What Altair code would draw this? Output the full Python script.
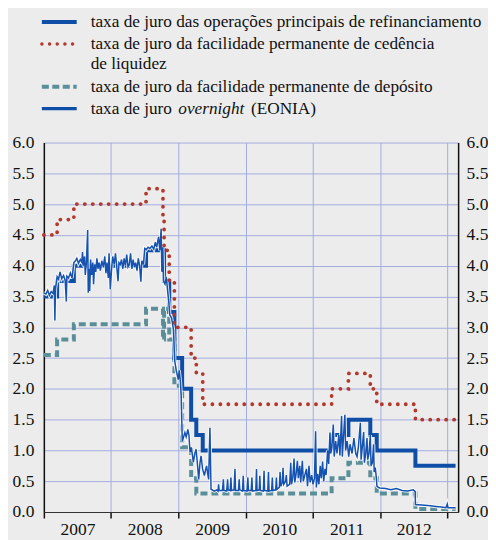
import altair as alt
import pandas as pd

# ---------------- data ----------------
mro_dates = ["2007-01-01", "2007-03-14", "2007-06-13", "2008-07-09", "2008-10-15", "2008-11-12",
             "2008-12-10", "2009-01-21", "2009-03-11", "2009-04-08", "2009-05-13", "2011-04-13",
             "2011-07-13", "2011-11-09", "2011-12-14", "2012-07-11", "2013-02-14"]
mro_values = [3.50, 3.75, 4.00, 4.25, 3.75, 3.25, 2.50, 2.00, 1.50, 1.25, 1.00, 1.25,
              1.50, 1.25, 1.00, 0.75, 0.75]

mlf_dates = ["2007-01-01", "2007-03-14", "2007-06-13", "2008-07-09", "2008-10-09", "2008-10-15",
             "2008-11-12", "2008-12-10", "2009-03-11", "2009-04-08", "2009-05-13", "2011-04-13",
             "2011-07-13", "2011-11-09", "2011-12-14", "2012-07-11", "2013-02-10"]
mlf_values = [4.50, 4.75, 5.00, 5.25, 4.75, 4.25, 3.75, 3.00, 2.50, 2.25, 1.75, 2.00,
              2.25, 2.00, 1.75, 1.50, 1.50]

dep_dates = ["2007-01-01", "2007-03-14", "2007-06-13", "2008-07-09", "2008-10-09", "2008-10-15",
             "2008-11-12", "2008-12-10", "2009-01-21", "2009-03-11", "2009-04-08", "2011-04-13",
             "2011-07-13", "2011-11-09", "2011-12-14", "2012-07-11", "2013-02-14"]
dep_values = [2.55, 2.80, 3.05, 3.30, 2.80, 3.30, 2.80, 2.05, 1.05, 0.55, 0.30, 0.55,
              0.80, 0.55, 0.30, 0.05, 0.05]

eonia_dates = [
    "2007-01-01", "2007-01-12", "2007-01-22", "2007-01-31", "2007-02-10", "2007-02-20", "2007-02-27",
    "2007-03-02", "2007-03-05", "2007-03-14", "2007-03-22", "2007-03-30", "2007-04-08", "2007-04-18",
    "2007-04-27", "2007-05-03", "2007-05-06", "2007-05-15", "2007-05-25", "2007-06-03", "2007-06-13",
    "2007-06-22", "2007-06-29", "2007-07-08", "2007-07-18", "2007-07-26", "2007-07-30", "2007-08-03",
    "2007-08-10", "2007-08-14", "2007-08-20", "2007-08-27", "2007-08-30", "2007-09-03", "2007-09-07",
    "2007-09-12", "2007-09-18", "2007-09-24", "2007-09-28", "2007-10-04", "2007-10-10", "2007-10-16",
    "2007-10-22", "2007-10-28", "2007-11-04", "2007-11-12", "2007-11-20", "2007-11-28", "2007-12-04",
    "2007-12-10", "2007-12-17", "2007-12-21", "2007-12-28",
    "2008-01-04", "2008-01-10", "2008-01-18", "2008-01-25", "2008-02-01", "2008-02-08", "2008-02-13",
    "2008-02-20", "2008-02-27", "2008-03-05", "2008-03-12", "2008-03-19", "2008-03-26", "2008-04-02",
    "2008-04-09", "2008-04-16", "2008-04-23", "2008-04-30", "2008-05-07", "2008-05-14", "2008-05-21",
    "2008-05-28", "2008-06-04", "2008-06-11", "2008-06-16", "2008-06-25", "2008-07-02", "2008-07-10",
    "2008-07-20", "2008-07-30", "2008-08-10", "2008-08-20", "2008-08-28", "2008-09-05", "2008-09-15",
    "2008-09-22", "2008-09-29", "2008-10-03", "2008-10-08", "2008-10-12", "2008-10-20", "2008-10-27",
    "2008-11-03", "2008-11-10", "2008-11-15", "2008-11-25", "2008-12-05", "2008-12-12", "2008-12-20",
    "2008-12-31",
    "2009-01-05", "2009-01-12", "2009-01-16", "2009-01-22", "2009-01-29", "2009-02-05", "2009-02-12",
    "2009-02-21", "2009-02-27", "2009-03-05", "2009-03-12", "2009-03-23", "2009-03-31", "2009-04-07",
    "2009-04-14", "2009-04-21", "2009-04-28", "2009-05-04", "2009-05-12", "2009-05-22", "2009-05-28",
    "2009-06-03", "2009-06-09", "2009-06-14", "2009-06-21", "2009-06-27",
    "2009-07-15", "2009-07-28", "2009-08-04", "2009-08-07", "2009-08-10", "2009-08-28", "2009-09-02",
    "2009-09-05", "2009-09-20", "2009-09-25", "2009-09-28", "2009-10-09", "2009-10-13", "2009-10-16",
    "2009-10-30", "2009-11-04", "2009-11-07", "2009-11-23", "2009-11-27", "2009-11-30", "2009-12-15",
    "2009-12-19", "2009-12-22",
    "2010-01-08", "2010-01-13", "2010-01-16", "2010-01-31", "2010-02-04", "2010-02-07", "2010-02-25",
    "2010-03-01", "2010-03-04", "2010-03-16", "2010-03-19", "2010-03-22", "2010-04-07", "2010-04-11",
    "2010-04-14", "2010-05-01", "2010-05-05", "2010-05-08", "2010-05-22", "2010-05-26", "2010-05-29",
    "2010-06-13", "2010-06-17", "2010-06-20", "2010-07-03", "2010-07-07", "2010-07-11", "2010-07-19",
    "2010-07-23", "2010-07-27", "2010-08-06", "2010-08-10", "2010-08-14", "2010-08-28", "2010-09-03",
    "2010-09-07", "2010-09-14", "2010-09-21", "2010-09-25", "2010-10-02", "2010-10-09", "2010-10-14",
    "2010-10-22", "2010-10-27", "2010-11-05", "2010-11-10", "2010-11-20", "2010-11-27", "2010-12-03",
    "2010-12-11", "2010-12-17", "2010-12-26",
    "2011-01-02", "2011-01-10", "2011-01-16", "2011-01-20", "2011-01-27", "2011-02-03", "2011-02-10",
    "2011-02-16", "2011-02-23", "2011-03-01", "2011-03-08", "2011-03-14", "2011-03-22", "2011-03-28",
    "2011-04-04", "2011-04-08", "2011-04-14", "2011-04-22", "2011-04-27", "2011-05-05", "2011-05-12",
    "2011-05-22", "2011-05-28", "2011-06-06", "2011-06-10", "2011-06-16", "2011-06-24", "2011-06-28",
    "2011-07-06", "2011-07-15", "2011-07-22", "2011-08-02", "2011-08-12", "2011-08-22", "2011-08-29",
    "2011-09-05", "2011-09-16", "2011-09-20", "2011-09-28", "2011-10-04", "2011-10-08", "2011-10-15",
    "2011-10-22", "2011-10-26", "2011-11-02", "2011-11-09", "2011-11-13", "2011-11-20", "2011-11-27",
    "2011-11-30", "2011-12-06", "2011-12-12", "2011-12-15", "2011-12-22", "2011-12-31",
    "2012-01-31", "2012-02-29", "2012-03-30", "2012-04-30", "2012-05-31", "2012-06-29", "2012-07-10",
    "2012-07-11", "2012-08-31", "2012-09-30", "2012-10-31", "2012-11-30", "2012-12-24", "2012-12-31",
    "2013-01-04", "2013-02-14",
]
eonia_values = [
    3.56, 3.54, 3.60, 3.52, 3.58, 3.55, 3.68,
    3.11, 3.62, 3.82, 3.78, 3.90, 3.79, 3.84,
    3.76, 3.42, 3.83, 3.80, 3.88, 3.80, 4.05,
    4.08, 4.12, 4.04, 4.10, 4.06, 4.22, 4.00,
    4.15, 3.85, 4.05, 4.58, 3.56, 3.95, 3.59,
    4.10, 3.85, 4.05, 3.70, 4.02, 3.90, 4.12,
    3.95, 4.05, 3.92, 4.08, 3.98, 4.15, 3.88,
    4.05, 3.80, 4.20, 3.62,
    3.95, 4.15, 4.02, 4.20, 3.98, 3.75, 4.05,
    4.02, 4.10, 3.95, 4.12, 4.00, 4.18, 3.98,
    4.02, 4.20, 3.95, 4.10, 3.98, 4.05, 3.92,
    4.12, 4.00, 3.74, 4.08, 4.02, 4.28, 4.26,
    4.30, 4.28, 4.32, 4.27, 4.38, 4.30, 4.47,
    4.25, 4.60, 3.90, 4.30, 3.75, 3.70, 3.82,
    3.60, 3.40, 3.20, 3.15, 2.96, 2.45, 2.30,
    2.15,
    2.30, 2.10, 1.88, 1.15, 1.22, 1.29, 1.22,
    1.34, 1.25, 0.97, 1.05, 0.81, 0.95, 1.02,
    0.78, 0.53, 0.80, 0.91, 0.70, 0.59, 0.68,
    0.75, 0.62, 0.53, 1.37, 0.37,
    0.34, 0.36, 0.34, 0.45, 0.35, 0.35, 0.53,
    0.35, 0.34, 0.53, 0.36, 0.35, 0.56, 0.35,
    0.36, 0.70, 0.35, 0.35, 0.53, 0.36, 0.34,
    0.59, 0.35,
    0.34, 0.56, 0.35, 0.35, 0.56, 0.34, 0.35,
    0.70, 0.35, 0.36, 0.59, 0.35, 0.34, 0.67,
    0.35, 0.34, 0.65, 0.34, 0.35, 0.56, 0.35,
    0.36, 0.56, 0.37, 0.40, 0.65, 0.42, 0.48,
    0.72, 0.45, 0.50, 0.60, 0.42, 0.45, 0.80,
    0.45, 0.55, 0.87, 0.48, 0.62, 0.83, 0.55,
    0.75, 0.48, 0.83, 0.50, 0.62, 0.70, 0.42,
    0.75, 0.48, 0.60,
    0.45, 0.55, 1.31, 0.40, 0.62, 0.45, 0.75,
    0.55, 0.82, 0.50, 0.70, 0.60, 1.00, 0.78,
    1.29, 0.95, 1.05, 1.42, 0.90, 1.15, 0.95,
    1.25, 0.92, 1.56, 0.90, 1.20, 1.58, 1.00,
    1.15, 0.90, 1.10, 0.95, 1.20, 0.95, 0.90,
    1.05, 1.45, 0.85, 1.10, 1.30, 0.80, 0.95,
    1.20, 0.85, 0.95, 1.25, 0.75, 0.80, 1.10,
    0.65, 0.72, 0.55, 0.42, 0.40, 0.39,
    0.38, 0.36, 0.38, 0.35, 0.34, 0.36, 0.33,
    0.12, 0.11, 0.10, 0.09, 0.08, 0.07, 0.13,
    0.07, 0.07,
]

legend_labels = [
    "taxa de juro das operações principais de refinanciamento",
    "taxa de juro da facilidade permanente de cedência",
    "de liquidez",
    "taxa de juro da facilidade permanente de depósito",
    "taxa de juro",
    "overnight",
    "(EONIA)",
]
years = [2007, 2008, 2009, 2010, 2011, 2012, 2013]
y_ticks = [0, 0.5, 1, 1.5, 2, 2.5, 3, 3.5, 4, 4.5, 5, 5.5, 6]

# ---------------- style ----------------
BG = "#ececec"
GRID = "#a3acdf"
BLUE = "#0f4ea6"
EONIA_BLUE = "#1652b0"
RED = "#b4372b"
TEAL = "#5a8f99"
FONT = "Liberation Serif"
FS = 17.5
LFS = 17.3
W, H = 416, 371

mro_df = pd.DataFrame({"date": mro_dates, "v": mro_values})
mlf_df = pd.DataFrame({"date": mlf_dates, "v": mlf_values})
dep_df = pd.DataFrame({"date": dep_dates, "v": dep_values})
eon_df = pd.DataFrame({"date": eonia_dates, "v": eonia_values})

x_scale = alt.Scale(domain=[alt.DateTime(year=2007, month=1, date=1),
                            alt.DateTime(year=2013, month=2, date=28)])
y_scale = alt.Scale(domain=[0, 6], nice=False)

x_axis = alt.Axis(
    values=[alt.DateTime(year=y, month=1, date=1) for y in years],
    labelExpr="year(datum.value) < 2013 ? '' + year(datum.value) : ''",
    labelOffset=33.8, labelAlign="center", labelFlush=False, labelOverlap=False,
    labelBound=False, labelBaseline="top", labelPadding=3,
    tickSize=6, tickWidth=1.5, tickColor="#111",
    domainColor="#333", domainWidth=1.2,
    grid=True, gridColor=GRID, gridWidth=1,
    labelFont=FONT, labelFontSize=FS, labelColor="#111", title=None,
)
left_axis = alt.Axis(
    orient="left", values=y_ticks, format=".1f", ticks=False, labelPadding=10,
    domainColor="#111", domainWidth=1.5, grid=True, gridColor=GRID, gridWidth=1,
    labelFont=FONT, labelFontSize=FS, labelColor="#111", title=None,
)
right_axis = alt.Axis(
    orient="right", values=y_ticks, format=".1f", ticks=False, labelPadding=8,
    domainColor="#111", domainWidth=1.5, grid=False,
    labelFont=FONT, labelFontSize=FS, labelColor="#111", title=None,
)

X = alt.X("date:T", scale=x_scale, axis=x_axis)

dep = alt.Chart(dep_df).mark_line(
    interpolate="step-after", color=TEAL, strokeWidth=4, strokeDash=[7, 4]
).encode(x=X, y=alt.Y("v:Q", scale=y_scale, axis=left_axis))
mro = alt.Chart(mro_df).mark_line(
    interpolate="step-after", color=BLUE, strokeWidth=4
).encode(x=X, y=alt.Y("v:Q", scale=y_scale, axis=right_axis))
eon_halo = alt.Chart(eon_df).mark_line(color="white", strokeWidth=3.4, opacity=0.85).encode(
    x=X, y=alt.Y("v:Q", scale=y_scale, axis=None))
eon = alt.Chart(eon_df).mark_line(color=EONIA_BLUE, strokeWidth=1.5).encode(
    x=X, y=alt.Y("v:Q", scale=y_scale, axis=None))
mlf = alt.Chart(mlf_df).mark_line(
    interpolate="step-after", color=RED, strokeWidth=3.8, strokeDash=[0.1, 7.9], strokeCap="round"
).encode(x=X, y=alt.Y("v:Q", scale=y_scale, axis=None))

# ---------------- legend (above the plot) ----------------
one = pd.DataFrame({"k": [0]})
row_y = [-121, -99, -79, -56, -34]
sym_x0, sym_x1, txt_x = -2, 33, 47


def sym(y, color, width, dash=None, cap="butt"):
    kw = dict(color=color, strokeWidth=width, strokeCap=cap)
    if dash is not None:
        kw["strokeDash"] = dash
    return alt.Chart(one).mark_rule(**kw).encode(
        x=alt.value(sym_x0), x2=alt.value(sym_x1), y=alt.value(y))


def txt(x, y, s, style="normal"):
    return alt.Chart(one).mark_text(
        align="left", baseline="middle", font=FONT, fontSize=LFS, color="#111", fontStyle=style
    ).encode(x=alt.value(x), y=alt.value(y), text=alt.value(s))


legend = [
    sym(row_y[0], BLUE, 4),
    sym(row_y[1], RED, 3.4, [0.1, 7.6], "round"),
    sym(row_y[3], TEAL, 4, [7, 3.5]),
    sym(row_y[4], BLUE, 3.2),
    txt(txt_x, row_y[0], legend_labels[0]),
    txt(txt_x, row_y[1], legend_labels[1]),
    txt(txt_x, row_y[2], legend_labels[2]),
    txt(txt_x, row_y[3], legend_labels[3]),
    txt(txt_x, row_y[4], legend_labels[4]),
    txt(txt_x + 88, row_y[4], legend_labels[5], "italic"),
    txt(txt_x + 161, row_y[4], legend_labels[6]),
]

chart = alt.layer(dep, mro, eon_halo, eon, mlf, *legend).resolve_axis(
    y="independent"
).properties(
    width=W, height=H,
    autosize=alt.AutoSizeParams(type="none"),
    padding={"left": 36, "top": 134, "right": 30, "bottom": 27},
    background=BG,
).configure_view(stroke=None, fill=BG)

chart.save("out.html", embed_options={"renderer": "svg", "actions": False})
